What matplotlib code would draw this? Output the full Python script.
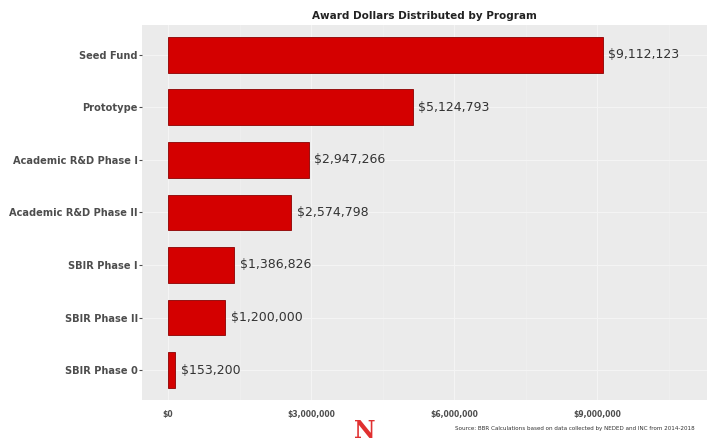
import matplotlib.pyplot as plt
from matplotlib.ticker import FuncFormatter

programs = ["Seed Fund", "Prototype", "Academic R&D Phase I", "Academic R&D Phase II",
            "SBIR Phase I", "SBIR Phase II", "SBIR Phase 0"]
dollars = [9112123, 5124793, 2947266, 2574798, 1386826, 1200000, 153200]
labels = ["$9,112,123", "$5,124,793", "$2,947,266", "$2,574,798",
          "$1,386,826", "$1,200,000", "$153,200"]

fig = plt.figure(figsize=(7.07, 4.43), dpi=100)
ax = fig.add_axes([0.201, 0.097, 0.799, 0.847])
ax.set_facecolor("#EBEBEB")

pos = list(range(len(programs)))[::-1]
ax.barh(pos, dollars, height=0.68, color="#D40000", edgecolor="#8B0000", linewidth=0.6, zorder=3)
for p, v, lab in zip(pos, dollars, labels):
    ax.text(v + 120000, p, lab, va="center", ha="left", fontsize=9, color="#333333", zorder=4)

ax.set_yticks(pos)
ax.set_yticklabels(programs, fontsize=7.1, fontweight="bold", color="#4D4D4D")
ax.set_xticks([0, 3000000, 6000000, 9000000])
ax.xaxis.set_major_formatter(FuncFormatter(lambda x, _: "${:,.0f}".format(x)))
ax.tick_params(axis="x", which="both", labelsize=5.5, colors="#4D4D4D", length=0, pad=7)
ax.tick_params(axis="y", length=2, color="#4D4D4D", pad=1)
for t in ax.get_xticklabels():
    t.set_fontweight("bold")
ax.set_xticks([1500000, 4500000, 7500000, 10500000], minor=True)
ax.grid(True, which="major", color="#F4F4F4", linewidth=0.8, zorder=0)
ax.grid(True, which="minor", axis="x", color="#F2F2F2", linewidth=0.4, zorder=0)
ax.set_xlim(-545000, 11300000)
ax.set_ylim(-0.57, 6.57)
for s in ax.spines.values():
    s.set_visible(False)

fig.text(0.6, 0.964, "Award Dollars Distributed by Program", ha="center", va="center",
         fontsize=7.5, fontweight="bold", color="#222222")
fig.text(0.516, 0.028, "N", ha="center", va="center", fontsize=17, fontweight="bold",
         family="DejaVu Serif", color="#E03030")
fig.text(0.643, 0.032, "Source: BBR Calculations based on data collected by NEDED and INC from 2014-2018",
         ha="left", va="center", fontsize=4.1, color="#333333")

fig.savefig("out.png", dpi=100)
